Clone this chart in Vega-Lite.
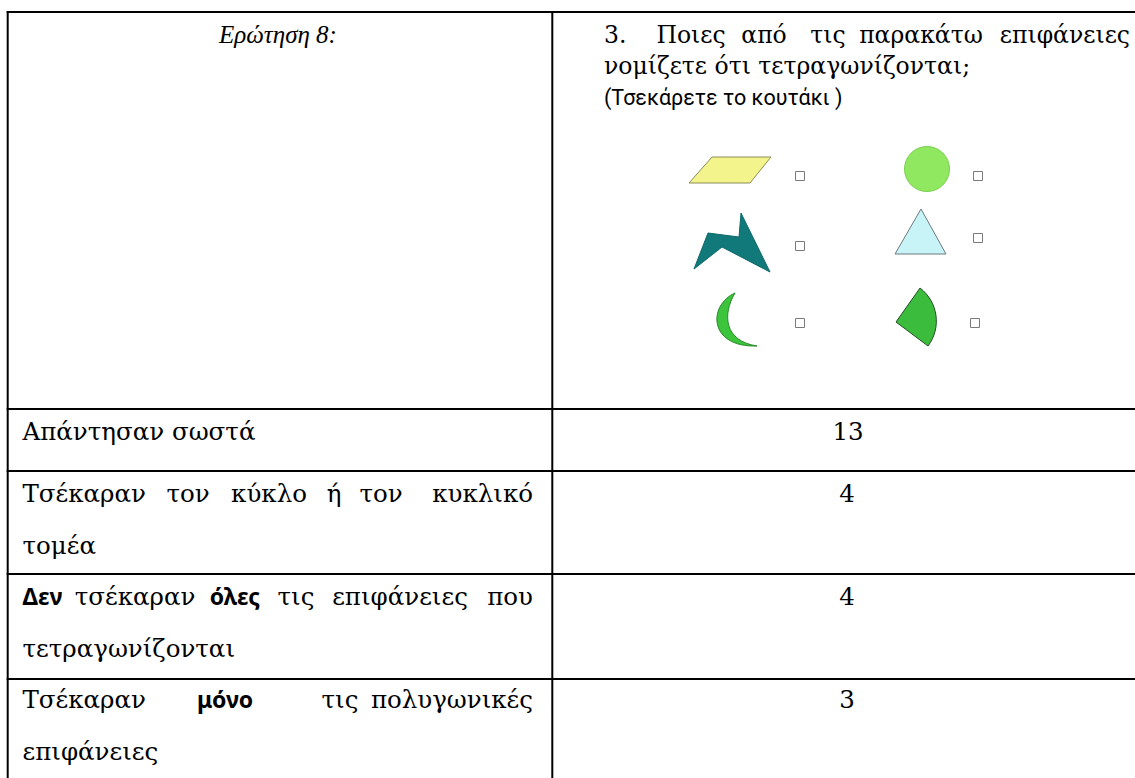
{
  "$schema": "https://vega.github.io/schema/vega-lite/v6.json",
  "width": 1135,
  "height": 778,
  "autosize": {"type": "none"},
  "padding": 0,
  "background": "white",
  "config": {"view": {"stroke": null}},
  "datasets": {
    "lines": [
      {"x": 7.7, "x2": 7.7, "y": 11, "y2": 778},
      {"x": 552.3, "x2": 552.3, "y": 11, "y2": 778},
      {"x": 6.7, "x2": 1135, "y": 12, "y2": 12},
      {"x": 6.7, "x2": 1135, "y": 409, "y2": 409},
      {"x": 6.7, "x2": 1135, "y": 471, "y2": 471},
      {"x": 6.7, "x2": 1135, "y": 574, "y2": 574},
      {"x": 6.7, "x2": 1135, "y": 679, "y2": 679}
    ],
    "words": [
      {"t": "Ερώτηση 8:", "x": 278, "y": 43, "a": "c", "f": "i"},
      {"t": "3.", "x": 604, "y": 43, "a": "l", "f": "t"},
      {"t": "Ποιες", "x": 691, "y": 43, "a": "c", "f": "t"},
      {"t": "από", "x": 764, "y": 43, "a": "c", "f": "t"},
      {"t": "τις", "x": 828, "y": 43, "a": "c", "f": "t"},
      {"t": "παρακάτω", "x": 921, "y": 43, "a": "c", "f": "t"},
      {"t": "επιφάνειες", "x": 1130, "y": 43, "a": "r", "f": "t"},
      {"t": "νομίζετε ότι τετραγωνίζονται;", "x": 604, "y": 74, "a": "l", "f": "t"},
      {"t": "(Τσεκάρετε το κουτάκι )", "x": 604, "y": 105, "a": "l", "f": "s"},
      {"t": "Απάντησαν σωστά", "x": 22.5, "y": 439.5, "a": "l", "f": "n"},
      {"t": "13", "x": 848, "y": 439.5, "a": "c", "f": "n"},
      {"t": "Τσέκαραν", "x": 22.5, "y": 501.5, "a": "l", "f": "n"},
      {"t": "τον", "x": 188, "y": 501.5, "a": "c", "f": "n"},
      {"t": "κύκλο", "x": 269, "y": 501.5, "a": "c", "f": "n"},
      {"t": "ή", "x": 334, "y": 501.5, "a": "c", "f": "n"},
      {"t": "τον", "x": 381, "y": 501.5, "a": "c", "f": "n"},
      {"t": "κυκλικό", "x": 533, "y": 501.5, "a": "r", "f": "n"},
      {"t": "τομέα", "x": 22.5, "y": 553.5, "a": "l", "f": "n"},
      {"t": "4", "x": 847, "y": 501.5, "a": "c", "f": "n"},
      {"t": "Δεν", "x": 22.5, "y": 604.5, "a": "l", "f": "b"},
      {"t": "τσέκαραν", "x": 135, "y": 604.5, "a": "c", "f": "n"},
      {"t": "όλες", "x": 235, "y": 604.5, "a": "c", "f": "b"},
      {"t": "τις", "x": 296, "y": 604.5, "a": "c", "f": "n"},
      {"t": "επιφάνειες", "x": 400, "y": 604.5, "a": "c", "f": "n"},
      {"t": "που", "x": 533, "y": 604.5, "a": "r", "f": "n"},
      {"t": "τετραγωνίζονται", "x": 22.5, "y": 656.5, "a": "l", "f": "n"},
      {"t": "4", "x": 847, "y": 604.5, "a": "c", "f": "n"},
      {"t": "Τσέκαραν", "x": 22.5, "y": 708, "a": "l", "f": "n"},
      {"t": "μόνο", "x": 225, "y": 708, "a": "c", "f": "b"},
      {"t": "τις", "x": 340, "y": 708, "a": "c", "f": "n"},
      {"t": "πολυγωνικές", "x": 533, "y": 708, "a": "r", "f": "n"},
      {"t": "επιφάνειες", "x": 22.5, "y": 760, "a": "l", "f": "n"},
      {"t": "3", "x": 847, "y": 708, "a": "c", "f": "n"}
    ],
    "shapes": [
      {"s": "para", "x": 730, "y": 170},
      {"s": "zig", "x": 732, "y": 242},
      {"s": "cres", "x": 737, "y": 320},
      {"s": "circ", "x": 927, "y": 169},
      {"s": "tri", "x": 921, "y": 235},
      {"s": "sect", "x": 910, "y": 317}
    ],
    "boxes": [
      {"x": 800, "y": 176},
      {"x": 800, "y": 246},
      {"x": 800, "y": 323},
      {"x": 978, "y": 176},
      {"x": 978, "y": 238},
      {"x": 975, "y": 323}
    ]
  },
  "encoding": {
    "x": {"field": "x", "type": "quantitative", "scale": {"domain": [0, 1135], "nice": false, "zero": false}, "axis": null},
    "y": {"field": "y", "type": "quantitative", "scale": {"domain": [0, 778], "nice": false, "zero": false, "reverse": true}, "axis": null}
  },
  "layer": [
    {
      "data": {"name": "lines"},
      "mark": {"type": "rule", "color": "black", "strokeWidth": 2},
      "encoding": {
        "x2": {"field": "x2"},
        "y2": {"field": "y2"}
      }
    },
    {
      "data": {"name": "shapes"},
      "mark": {"type": "point", "filled": true, "size": 10000, "strokeWidth": 1, "opacity": 1, "fillOpacity": 1},
      "encoding": {
        "shape": {"field": "s", "type": "nominal", "legend": null, "scale": {
          "domain": ["para", "zig", "cres", "circ", "tri", "sect"],
          "range": [
            "M-0.82,0.26L-0.36,-0.26L0.82,-0.26L0.4,0.26Z",
            "M0.18,-0.58L0.76,0.6L-0.2,0.1L-0.76,0.54L-0.48,-0.18L0.14,-0.1Z",
            "M-0.04,-0.54C-0.58,-0.3,-0.58,0.55,0.4,0.52C-0.25,0.42,-0.3,-0.1,-0.04,-0.54Z",
            "M-0.45,0A0.45,0.45,0,1,0,0.45,0A0.45,0.45,0,1,0,-0.45,0Z",
            "M0,-0.52L-0.52,0.38L0.5,0.38Z",
            "M-0.28,0.1L0.2,-0.58A0.83,0.83,0,0,1,0.36,0.58Z"
          ]}},
        "fill": {"field": "s", "type": "nominal", "legend": null, "scale": {
          "domain": ["para", "zig", "cres", "circ", "tri", "sect"],
          "range": ["#f4f48c", "#11797a", "#3cc43c", "#90e860", "#c9f4f7", "#3cbc3c"]}},
        "stroke": {"field": "s", "type": "nominal", "legend": null, "scale": {
          "domain": ["para", "zig", "cres", "circ", "tri", "sect"],
          "range": ["#8c8c5a", "#0d6a6a", "#2a8a2a", "#7ccf50", "#6b7b80", "#224f22"]}}
      }
    },
    {
      "data": {"name": "boxes"},
      "mark": {"type": "point", "shape": "square", "size": 81, "filled": false, "stroke": "#7a7a7a", "strokeWidth": 1, "opacity": 1}
    },
    {
      "data": {"name": "words"},
      "transform": [{"filter": "datum.f == 'n' && datum.a == 'l'"}],
      "mark": {"type": "text", "align": "left", "baseline": "alphabetic", "font": "DejaVu Serif", "fontSize": 24.5, "color": "black"},
      "encoding": {"text": {"field": "t"}}
    },
    {
      "data": {"name": "words"},
      "transform": [{"filter": "datum.f == 'n' && datum.a == 'r'"}],
      "mark": {"type": "text", "align": "right", "baseline": "alphabetic", "font": "DejaVu Serif", "fontSize": 24.5, "color": "black"},
      "encoding": {"text": {"field": "t"}}
    },
    {
      "data": {"name": "words"},
      "transform": [{"filter": "datum.f == 'n' && datum.a == 'c'"}],
      "mark": {"type": "text", "align": "center", "baseline": "alphabetic", "font": "DejaVu Serif", "fontSize": 24.5, "color": "black"},
      "encoding": {"text": {"field": "t"}}
    },
    {
      "data": {"name": "words"},
      "transform": [{"filter": "datum.f == 't' && datum.a == 'l'"}],
      "mark": {"type": "text", "align": "left", "baseline": "alphabetic", "font": "DejaVu Serif", "fontSize": 23.5, "color": "black"},
      "encoding": {"text": {"field": "t"}}
    },
    {
      "data": {"name": "words"},
      "transform": [{"filter": "datum.f == 't' && datum.a == 'r'"}],
      "mark": {"type": "text", "align": "right", "baseline": "alphabetic", "font": "DejaVu Serif", "fontSize": 23.5, "color": "black"},
      "encoding": {"text": {"field": "t"}}
    },
    {
      "data": {"name": "words"},
      "transform": [{"filter": "datum.f == 't' && datum.a == 'c'"}],
      "mark": {"type": "text", "align": "center", "baseline": "alphabetic", "font": "DejaVu Serif", "fontSize": 23.5, "color": "black"},
      "encoding": {"text": {"field": "t"}}
    },
    {
      "data": {"name": "words"},
      "transform": [{"filter": "datum.f == 'b' && datum.a == 'l'"}],
      "mark": {"type": "text", "align": "left", "baseline": "alphabetic", "font": "Noto Sans", "fontWeight": "bold", "fontSize": 23, "color": "black"},
      "encoding": {"text": {"field": "t"}}
    },
    {
      "data": {"name": "words"},
      "transform": [{"filter": "datum.f == 'b' && datum.a == 'c'"}],
      "mark": {"type": "text", "align": "center", "baseline": "alphabetic", "font": "Noto Sans", "fontWeight": "bold", "fontSize": 23, "color": "black"},
      "encoding": {"text": {"field": "t"}}
    },
    {
      "data": {"name": "words"},
      "transform": [{"filter": "datum.f == 's'"}],
      "mark": {"type": "text", "align": "left", "baseline": "alphabetic", "font": "Roboto", "fontSize": 21.5, "color": "black"},
      "encoding": {"text": {"field": "t"}}
    },
    {
      "data": {"name": "words"},
      "transform": [{"filter": "datum.f == 'i'"}],
      "mark": {"type": "text", "align": "center", "baseline": "alphabetic", "font": "Liberation Serif", "fontStyle": "italic", "fontSize": 25, "color": "black"},
      "encoding": {"text": {"field": "t"}}
    }
  ]
}
